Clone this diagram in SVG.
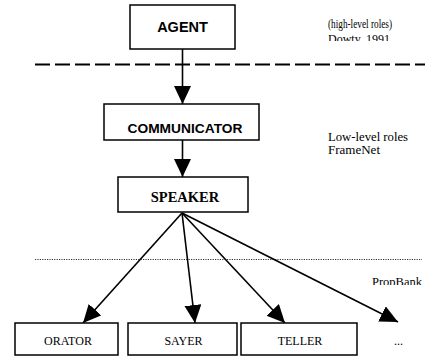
<svg xmlns="http://www.w3.org/2000/svg" width="429" height="358" viewBox="0 0 429 358">
<style>
.box{fill:#fff;stroke:#000;stroke-width:1.5}
.sans{font-family:"Liberation Sans",Arial,sans-serif;font-weight:bold;fill:#000;text-anchor:middle}
.serif{font-family:"Liberation Serif","Times New Roman",serif;fill:#000}
.mid{text-anchor:middle}
.edge{stroke:#000;stroke-width:1.6;fill:none;marker-end:url(#ah)}
</style>
<defs>
<marker id="ah" markerUnits="userSpaceOnUse" markerWidth="18" markerHeight="18" refX="18" refY="8.5" orient="auto">
<path d="M0,0 L18,8.5 L0,17 z" fill="#000"/>
</marker>
<clipPath id="c1"><rect x="300" y="0" width="129" height="41"/></clipPath>
<clipPath id="c2"><rect x="300" y="270" width="129" height="15"/></clipPath>
</defs>
<rect width="429" height="358" fill="#fff"/>
<g id="separators">
<line x1="35" y1="64.5" x2="425" y2="64.5" stroke="#000" stroke-width="2" stroke-dasharray="15 5"/>
<line x1="35" y1="259.5" x2="422" y2="259.5" stroke="#333" stroke-width="1" stroke-dasharray="1.2 1.2"/>
</g>
<g id="connectors">
<line class="edge" x1="182.5" y1="49" x2="182.5" y2="104"/>
<line class="edge" x1="182.5" y1="140" x2="182.5" y2="177"/>
<line class="edge" x1="182" y1="213" x2="83" y2="323"/>
<line class="edge" x1="182" y1="213" x2="195" y2="323"/>
<line class="edge" x1="182" y1="213" x2="285" y2="323"/>
<line class="edge" x1="182" y1="213" x2="398" y2="322"/>
</g>
<g id="agent">
<rect class="box" x="130" y="5" width="105" height="44"/>
<text class="sans" x="182.5" y="32" font-size="14.5">AGENT</text>
</g>
<g id="communicator">
<rect class="box" x="104" y="104" width="155" height="36"/>
<text class="sans" x="185" y="133" font-size="13.5" textLength="115" lengthAdjust="spacingAndGlyphs">COMMUNICATOR</text>
</g>
<g id="speaker">
<rect class="box" x="118" y="177" width="130" height="35"/>
<text class="serif mid" x="185" y="202" font-size="14.5" font-weight="bold">SPEAKER</text>
</g>
<g id="orator">
<rect class="box" x="15" y="323" width="103" height="32"/>
<text class="serif mid" x="68" y="345" font-size="12">ORATOR</text>
</g>
<g id="sayer">
<rect class="box" x="128" y="323" width="109" height="32"/>
<text class="serif mid" x="183.5" y="345" font-size="12">SAYER</text>
</g>
<g id="teller">
<rect class="box" x="241" y="323" width="116" height="32"/>
<text class="serif mid" x="300" y="345" font-size="12">TELLER</text>
</g>
<g id="more">
<text class="serif" x="394" y="345" font-size="12">...</text>
</g>
<g id="labels">
<g clip-path="url(#c1)">
<text class="serif" x="328" y="28.3" font-size="12" textLength="64" lengthAdjust="spacingAndGlyphs">(high-level roles)</text>
<text class="serif" x="328" y="43.3" font-size="12">Dowty, 1991</text>
</g>
<text class="serif" x="328" y="141" font-size="12" textLength="80" lengthAdjust="spacingAndGlyphs">Low-level roles</text>
<text class="serif" x="328" y="154" font-size="12" textLength="52" lengthAdjust="spacingAndGlyphs">FrameNet</text>
<g clip-path="url(#c2)">
<text class="serif" x="372" y="286.3" font-size="12.5">PropBank</text>
</g>
</g>
</svg>
